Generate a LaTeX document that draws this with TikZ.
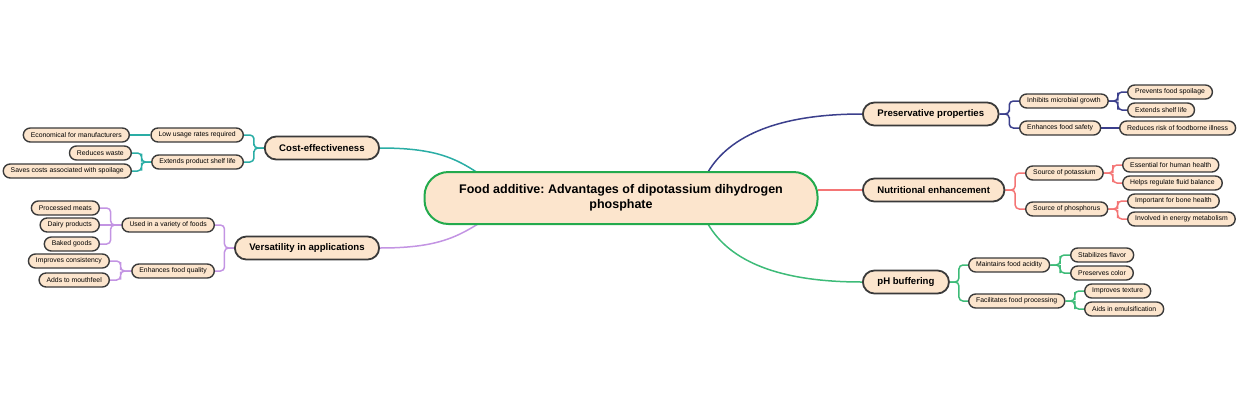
\documentclass[tikz,border=0pt]{standalone}
\usepackage{fontspec}
\setmainfont{Liberation Sans}
\usetikzlibrary{calc,backgrounds}
\definecolor{fillc}{HTML}{FCE5CD}
\definecolor{edgec}{HTML}{3A3A3A}
\definecolor{teal1}{HTML}{2AADA5}
\definecolor{navy1}{HTML}{3B3F8C}
\definecolor{salmon1}{HTML}{F47575}
\definecolor{green1}{HTML}{3DBB78}
\definecolor{lav1}{HTML}{C394E3}
\definecolor{cgreen}{HTML}{23AA4D}
\frenchspacing
\begin{document}
\begin{tikzpicture}[x=1pt,y=-1pt,
 leaf/.style={draw=edgec, line width=1.4pt, fill=fillc, rounded corners=7pt, minimum height=14pt, inner xsep=7.5pt, inner ysep=0pt, font=\fontsize{6.85}{7}\selectfont, text=black},
 branch/.style={draw=edgec, line width=1.8pt, fill=fillc, rounded corners=11.5pt, minimum height=23pt, inner xsep=14.5pt, inner ysep=0pt, font=\bfseries\fontsize{9.6}{10}\selectfont, text=black},
 root/.style={draw=cgreen, line width=2pt, fill=fillc, rounded corners=24pt, minimum width=393pt, minimum height=52pt, inner ysep=0pt, align=center, font=\bfseries\fontsize{12.5}{15}\selectfont, text=black},
 elbow/.style={to path={-| ($(\tikztostart)!.5!(\tikztotarget)$) |- (\tikztotarget)}},
 link/.style={line width=1.5pt, rounded corners=4pt},
 mainlink/.style={line width=1.5pt},
]
\useasboundingbox (0,0) rectangle (1240,400);

\node[root] (root) at (621,198) {Food additive: Advantages of dipotassium dihydrogen\\phosphate};
\coordinate (rc) at (478,173);
\coordinate (rv) at (478,224);
\coordinate (rp) at (708,172);
\coordinate (rh) at (708,224);
\coordinate (rn) at (818,190);

\node[branch, anchor=east] (cost) at (380,148) {Cost-effectiveness};
\node[branch, anchor=east] (vers) at (380,248) {Versatility in applications};
\node[branch, anchor=west] (pres) at (862,114) {Preservative properties};
\node[branch, anchor=west] (nut) at (862,190) {Nutritional enhancement};
\node[branch, anchor=west] (ph) at (862,282) {pH buffering};

\node[leaf, anchor=east] (low) at (244,135) {Low usage rates required};
\node[leaf, anchor=east] (econ) at (130,135) {Economical for manufacturers};
\node[leaf, anchor=east] (ext) at (244,162) {Extends product shelf life};
\node[leaf, anchor=east] (waste) at (132,153) {Reduces waste};
\node[leaf, anchor=east] (saves) at (132,171) {Saves costs associated with spoilage};

\node[leaf, anchor=east] (used) at (215,225) {Used in a variety of foods};
\node[leaf, anchor=east] (meats) at (100,208) {Processed meats};
\node[leaf, anchor=east] (dairy) at (100,225) {Dairy products};
\node[leaf, anchor=east] (baked) at (100,244) {Baked goods};
\node[leaf, anchor=east] (quality) at (215,271) {Enhances food quality};
\node[leaf, anchor=east] (consist) at (110,261) {Improves consistency};
\node[leaf, anchor=east] (mouth) at (110,280) {Adds to mouthfeel};

\node[leaf, anchor=west] (inhib) at (1019,101) {Inhibits microbial growth};
\node[leaf, anchor=west] (spoil) at (1127,92) {Prevents food spoilage};
\node[leaf, anchor=west] (shelf) at (1127,110) {Extends shelf life};
\node[leaf, anchor=west] (safety) at (1019,128) {Enhances food safety};
\node[leaf, anchor=west] (risk) at (1119,128) {Reduces risk of foodborne illness};

\node[leaf, anchor=west] (pot) at (1025,173) {Source of potassium};
\node[leaf, anchor=west] (human) at (1122,165) {Essential for human health};
\node[leaf, anchor=west] (fluid) at (1122,183) {Helps regulate fluid balance};
\node[leaf, anchor=west] (phos) at (1025,209) {Source of phosphorus};
\node[leaf, anchor=west] (bone) at (1127,201) {Important for bone health};
\node[leaf, anchor=west] (energy) at (1127,219) {Involved in energy metabolism};

\node[leaf, anchor=west] (acid) at (968,265) {Maintains food acidity};
\node[leaf, anchor=west] (flavor) at (1070,255) {Stabilizes flavor};
\node[leaf, anchor=west] (color) at (1070,273) {Preserves color};
\node[leaf, anchor=west] (proc) at (968,301) {Facilitates food processing};
\node[leaf, anchor=west] (texture) at (1084,291) {Improves texture};
\node[leaf, anchor=west] (emul) at (1084,309) {Aids in emulsification};

\begin{scope}[on background layer]
\draw[mainlink, teal1] (cost.east) .. controls (435,148) and (455,158) .. (rc);
\draw[mainlink, lav1] (vers.east) .. controls (435,248) and (455,238) .. (rv);
\draw[mainlink, navy1] (pres.west) .. controls (780,114) and (730,135) .. (rp);
\draw[mainlink, salmon1] (rn) -- (nut.west);
\draw[mainlink, green1] (ph.west) .. controls (780,282) and (730,262) .. (rh);

\draw[link, teal1] (cost.west) to[elbow] (low.east);
\draw[link, teal1] (cost.west) to[elbow] (ext.east);
\draw[link, teal1] (low.west) -- (econ.east);
\draw[link, teal1] (ext.west) to[elbow] (waste.east);
\draw[link, teal1] (ext.west) to[elbow] (saves.east);

\draw[link, lav1] (vers.west) to[elbow] (used.east);
\draw[link, lav1] (vers.west) to[elbow] (quality.east);
\draw[link, lav1] (used.west) to[elbow] (meats.east);
\draw[link, lav1] (used.west) -- (dairy.east);
\draw[link, lav1] (used.west) to[elbow] (baked.east);
\draw[link, lav1] (quality.west) to[elbow] (consist.east);
\draw[link, lav1] (quality.west) to[elbow] (mouth.east);

\draw[link, navy1] (pres.east) to[elbow] (inhib.west);
\draw[link, navy1] (pres.east) to[elbow] (safety.west);
\draw[link, navy1] (inhib.east) to[elbow] (spoil.west);
\draw[link, navy1] (inhib.east) to[elbow] (shelf.west);
\draw[link, navy1] (safety.east) -- (risk.west);

\draw[link, salmon1] (nut.east) to[elbow] (pot.west);
\draw[link, salmon1] (nut.east) to[elbow] (phos.west);
\draw[link, salmon1] (pot.east) to[elbow] (human.west);
\draw[link, salmon1] (pot.east) to[elbow] (fluid.west);
\draw[link, salmon1] (phos.east) to[elbow] (bone.west);
\draw[link, salmon1] (phos.east) to[elbow] (energy.west);

\draw[link, green1] (ph.east) to[elbow] (acid.west);
\draw[link, green1] (ph.east) to[elbow] (proc.west);
\draw[link, green1] (acid.east) to[elbow] (flavor.west);
\draw[link, green1] (acid.east) to[elbow] (color.west);
\draw[link, green1] (proc.east) to[elbow] (texture.west);
\draw[link, green1] (proc.east) to[elbow] (emul.west);
\end{scope}
\end{tikzpicture}
\end{document}
